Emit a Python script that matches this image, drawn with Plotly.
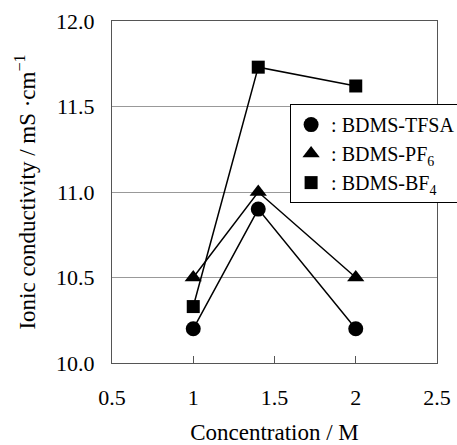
import plotly.graph_objects as go

concentration = [1.0, 1.4, 2.0]
tfsa = [10.2, 10.9, 10.2]
pf6 = [10.5, 11.0, 10.5]
bf4 = [10.33, 11.73, 11.62]

series = [
    (": BDMS-TFSA", tfsa, "circle", 15),
    (": BDMS-PF<sub>6</sub>", pf6, "triangle-up", 15),
    (": BDMS-BF<sub>4</sub>", bf4, "square", 13),
]

FONT = "Liberation Serif, serif"

fig = go.Figure()
for name, vals, sym, sz in series:
    fig.add_trace(go.Scatter(
        x=concentration, y=vals, mode="lines", showlegend=False,
        line=dict(color="black", width=1.5), hoverinfo="skip",
    ))
for name, vals, sym, sz in series:
    fig.add_trace(go.Scatter(
        x=concentration, y=vals, name=name, mode="markers",
        marker=dict(symbol=sym, size=sz, color="black"),
    ))

fig.update_layout(
    width=457, height=445,
    margin=dict(l=112, r=20, t=21, b=82, autoexpand=False),
    paper_bgcolor="white", plot_bgcolor="white",
    font=dict(family=FONT, size=22, color="black"),
    showlegend=True,
    legend=dict(
        x=0.548, xanchor="left", y=0.757, yanchor="top",
        bgcolor="white", bordercolor="black", borderwidth=1,
        font=dict(family=FONT, size=20, color="black"),
        tracegroupgap=0, itemwidth=30,
    ),
    xaxis=dict(
        range=[0.5, 2.5], dtick=0.5, tick0=0.5,
        ticks="inside", ticklen=7, tickcolor="#555",
        showgrid=False, zeroline=False,
        showline=True, linecolor="#555", linewidth=1, mirror=True,
        ticklabelstandoff=15,
        tickfont=dict(family=FONT, size=22, color="black"),
        title=dict(text="Concentration / M", standoff=14,
                   font=dict(family=FONT, size=23, color="black")),
    ),
    yaxis=dict(
        range=[10.0, 12.0], dtick=0.5, tickformat=".1f",
        ticks="", showgrid=True, gridcolor="#999", gridwidth=1,
        zeroline=False,
        showline=True, linecolor="#555", linewidth=1, mirror=True,
        ticklabelstandoff=12,
        tickfont=dict(family=FONT, size=22, color="black"),
        title=dict(text="Ionic conductivity / mS ·cm<sup>−1</sup>", standoff=14,
                   font=dict(family=FONT, size=23, color="black")),
    ),
)

fig.write_html("out.html", config={"displayModeBar": False},
               post_script="document.body.style.margin='0';")
